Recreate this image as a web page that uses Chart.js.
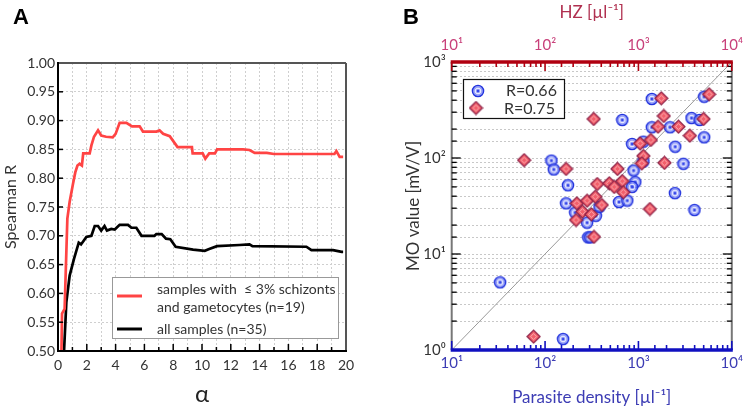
<!DOCTYPE html>
<html>
<head>
<meta charset="utf-8">
<script src="https://cdn.jsdelivr.net/npm/chart.js@4.4.0/dist/chart.umd.min.js"></script>
<style>
  body { margin: 0; background: #fff; width: 751px; height: 410px; overflow: hidden; position: relative; }
  canvas { position: absolute; top: 0; }
  #chartA { left: 0; width: 375px; height: 410px; }
  #chartB { left: 375px; width: 376px; height: 410px; }
</style>
</head>
<body>
<canvas id="chartA" width="375" height="410"></canvas>
<canvas id="chartB" width="376" height="410"></canvas>
<script>
// ---- panel A: Spearman R vs alpha ----
const alphaRed = [0.24, 0.28, 0.46, 0.65, 0.81, 1.04, 1.2, 1.35, 1.5, 1.66, 1.75, 2.2, 2.32, 2.5, 2.78, 3.0, 3.34, 3.8, 4.0, 4.28, 4.75, 5.14, 5.67, 5.9, 6.84, 7.05, 7.3, 7.76, 8.3, 9.3, 9.35, 10.05, 10.23, 10.5, 10.9, 11.05, 12.85, 13.3, 13.66, 14.5, 15.0, 19.2, 19.33, 19.56, 19.8];
const rRed = [0.50, 0.565, 0.573, 0.73, 0.759, 0.79, 0.81, 0.822, 0.825, 0.822, 0.843, 0.843, 0.857, 0.872, 0.883, 0.874, 0.872, 0.871, 0.877, 0.896, 0.896, 0.89, 0.89, 0.881, 0.881, 0.883, 0.877, 0.873, 0.854, 0.854, 0.843, 0.843, 0.834, 0.843, 0.843, 0.85, 0.85, 0.849, 0.844, 0.844, 0.842, 0.842, 0.847, 0.837, 0.837];
const alphaBlack = [0.42, 0.58, 0.81, 1.11, 1.44, 1.6, 1.97, 2.32, 2.55, 2.78, 3.0, 3.23, 3.4, 3.7, 3.94, 4.28, 4.86, 5.1, 5.44, 5.8, 6.7, 6.83, 7.2, 7.5, 7.8, 8.17, 9.38, 10.19, 10.5, 11.04, 12.6, 13.3, 13.5, 17.25, 17.6, 19.1, 19.7, 19.8];
const rBlack = [0.50, 0.585, 0.631, 0.66, 0.688, 0.685, 0.698, 0.70, 0.717, 0.717, 0.709, 0.717, 0.709, 0.712, 0.711, 0.719, 0.719, 0.714, 0.714, 0.70, 0.70, 0.703, 0.703, 0.695, 0.694, 0.681, 0.676, 0.674, 0.677, 0.682, 0.684, 0.685, 0.682, 0.681, 0.675, 0.675, 0.672, 0.672];
const legendA = ['samples with  \u2264 3% schizonts', 'and gametocytes (n=19)', 'all samples (n=35)'];

// ---- panel B: MO value vs parasite density ----
const circleX = [1393, 672, 1393, 2183, 3706, 4520, 5060, 5060, 855, 2478, 1130, 1130, 3030, 117, 124, 176, 888, 925, 855, 2460, 3980, 168, 620, 760, 210, 282, 350, 383, 290, 305, 33, 156];
const circleY = [412, 249, 209, 209, 261, 249, 435, 164, 140, 131, 148, 92, 87, 94, 76, 52, 74, 56, 50, 43, 28.7, 33.7, 34.8, 36, 27, 21.2, 25, 31, 14.9, 14.9, 5.07, 1.30];
const diamondX = [1758, 332, 1870, 1622, 2686, 5715, 4980, 3556, 1042, 1358, 1130, 1087, 1900, 59.7, 168, 596, 362, 487, 550, 672, 688, 1328, 219, 282, 345, 405, 251, 313, 215, 334, 75.4];
const diamondY = [419, 255, 274, 212, 212, 461, 255, 171, 142, 154, 105, 88, 89, 95, 77, 77, 53.6, 54.5, 50, 57.5, 44, 29.4, 33.7, 35.9, 39.5, 32.4, 27.6, 25.9, 22.6, 15.1, 1.38];
const diagX = [10, 10000];
const diagY = [1, 1000];
const legendB = ['R=0.66', 'R=0.75'];

const FONT = 'Lato, "DejaVu Sans", sans-serif';
const SUP = { '0': '\u2070', '1': '\u00b9', '2': '\u00b2', '3': '\u00b3', '4': '\u2074' };

function pts(xs, ys) {
    return xs.map((x, i) => ({ x: x, y: ys[i] }));
}

function isDecade(v) {
    const e = Math.log10(v);
    return Math.abs(e - Math.round(e)) < 1e-9;
}

function decadeLabel(v) {
    if (!isDecade(v)) return '';
    return '10' + SUP[String(Math.round(Math.log10(v)))];
}

function line(ctx, x1, y1, x2, y2) {
    ctx.beginPath();
    ctx.moveTo(x1, y1);
    ctx.lineTo(x2, y2);
    ctx.stroke();
}

// marker images
function makeCircle() {
    const c = document.createElement('canvas');
    c.width = c.height = 14;
    const g = c.getContext('2d');
    g.beginPath(); g.arc(7, 7, 5.6, 0, Math.PI * 2);
    g.fillStyle = 'rgba(105,120,245,0.7)'; g.fill();
    g.lineWidth = 1.4; g.strokeStyle = '#2233dd'; g.stroke();
    g.beginPath(); g.arc(7, 7, 2.8, 0, Math.PI * 2);
    g.lineWidth = 1; g.strokeStyle = 'rgba(255,255,255,0.9)'; g.stroke();
    g.beginPath(); g.arc(7, 7, 1.2, 0, Math.PI * 2);
    g.fillStyle = '#3344e8'; g.fill();
    return c;
}

function makeDiamond() {
    const c = document.createElement('canvas');
    c.width = c.height = 15;
    const g = c.getContext('2d');
    const m = 7.5, r = 6.5;
    g.beginPath();
    g.moveTo(m - r, m); g.lineTo(m, m - r); g.lineTo(m + r, m); g.lineTo(m, m + r); g.closePath();
    g.fillStyle = '#f25f6b'; g.fill();
    g.lineWidth = 1.2; g.strokeStyle = '#8c1f45'; g.stroke();
    g.beginPath();
    g.moveTo(m - 3, m); g.lineTo(m, m - 3); g.lineTo(m + 3, m); g.lineTo(m, m + 3); g.closePath();
    g.lineWidth = 0.8; g.strokeStyle = 'rgba(255,215,215,0.8)'; g.stroke();
    return c;
}

const circleImg = makeCircle();
const diamondImg = makeDiamond();

// ---------- chart A ----------
const decorA = {
    id: 'decorA',
    afterDraw(chart) {
        const { ctx, chartArea: a, scales: { x, y } } = chart;
        ctx.save();
        // inward ticks
        ctx.strokeStyle = '#000';
        ctx.lineWidth = 1.5;
        for (let v = 1; v < 20; v++) {
            const px = x.getPixelForValue(v);
            line(ctx, px, a.bottom, px, a.bottom - (v % 2 === 0 ? 7 : 4));
        }
        y.ticks.forEach(t => {
            const py = y.getPixelForValue(t.value);
            line(ctx, a.left, py, a.left + 5, py);
        });
        // frame
        ctx.lineWidth = 2;
        ctx.strokeStyle = '#555';
        line(ctx, a.left, a.top, a.right, a.top);
        line(ctx, a.right, a.top, a.right, a.bottom);
        ctx.strokeStyle = '#000';
        line(ctx, a.left, a.top - 1, a.left, a.bottom + 1);
        line(ctx, a.left, a.bottom, a.right + 1, a.bottom);

        // legend
        ctx.fillStyle = '#fff';
        ctx.fillRect(112, 277, 226, 61);
        ctx.strokeStyle = '#999';
        ctx.lineWidth = 1;
        ctx.strokeRect(112.5, 277.5, 226, 61);
        ctx.lineWidth = 3;
        ctx.strokeStyle = '#ff4444';
        line(ctx, 117, 296, 142, 296);
        ctx.strokeStyle = '#000';
        line(ctx, 117, 329, 142, 329);
        ctx.fillStyle = '#333';
        ctx.font = '14px ' + FONT;
        ctx.textBaseline = 'middle';
        ctx.textAlign = 'left';
        ctx.fillText(legendA[0], 157, 289);
        ctx.fillText(legendA[1], 157, 307);
        ctx.fillText(legendA[2], 157, 329);

        // panel letter
        ctx.font = 'bold 22px "Liberation Sans", Arial, sans-serif';
        ctx.fillStyle = '#000';
        ctx.textBaseline = 'alphabetic';
        ctx.fillText('A', 13, 24);
        ctx.restore();
    }
};

new Chart(document.getElementById('chartA'), {
    type: 'scatter',
    data: {
        datasets: [
            {
                data: pts(alphaRed, rRed),
                showLine: true,
                borderColor: '#ff4444',
                borderWidth: 2.7,
                pointRadius: 0
            },
            {
                data: pts(alphaBlack, rBlack),
                showLine: true,
                borderColor: '#000',
                borderWidth: 2.7,
                pointRadius: 0
            }
        ]
    },
    options: {
        responsive: false,
        animation: false,
        devicePixelRatio: 1,
        layout: { padding: { left: 0, right: 29, top: 63, bottom: 0 } },
        plugins: { legend: { display: false }, tooltip: { enabled: false } },
        scales: {
            x: {
                type: 'linear',
                min: 0,
                max: 20,
                afterFit: s => { s.height = 59; },
                ticks: {
                    stepSize: 1,
                    autoSkip: false,
                    maxRotation: 0,
                    padding: 6,
                    color: '#333',
                    font: { family: FONT, size: 14 },
                    callback: v => (v % 2 === 0 ? String(v) : '')
                },
                grid: { color: '#cfcfcf', lineWidth: 1, drawTicks: false },
                border: { display: false, dash: [2, 2] },
                title: {
                    display: true,
                    text: '\u03b1',
                    color: '#222',
                    font: { family: FONT, size: 24 },
                    padding: { top: 0, bottom: 1 }
                }
            },
            y: {
                min: 0.5,
                max: 1,
                afterFit: s => { s.width = 58; },
                ticks: {
                    stepSize: 0.05,
                    autoSkip: false,
                    padding: 3,
                    color: '#333',
                    font: { family: FONT, size: 14 },
                    callback: v => v.toFixed(2)
                },
                grid: { color: '#cfcfcf', lineWidth: 1, drawTicks: false },
                border: { display: false, dash: [2, 2] },
                title: {
                    display: true,
                    text: 'Spearman R',
                    color: '#333',
                    font: { family: FONT, size: 16 },
                    padding: { top: 1, bottom: 0 }
                }
            }
        }
    },
    plugins: [decorA]
});

// ---------- chart B ----------
const decorB = {
    id: 'decorB',
    afterDraw(chart) {
        const { ctx, chartArea: a, scales: { x, x2, y } } = chart;
        ctx.save();
        // side frames
        ctx.strokeStyle = '#777';
        ctx.lineWidth = 2;
        line(ctx, a.left, a.top, a.left, a.bottom);
        line(ctx, a.right, a.top, a.right, a.bottom);
        // left/right ticks
        ctx.strokeStyle = '#000';
        ctx.lineWidth = 1.3;
        y.ticks.forEach(t => {
            const py = y.getPixelForValue(t.value);
            const len = isDecade(t.value) ? 9 : 5;
            line(ctx, a.left, py, a.left + len, py);
            line(ctx, a.right, py, a.right - len, py);
        });
        // bottom axis (blue)
        ctx.strokeStyle = '#1010c0';
        ctx.lineWidth = 1.6;
        x.ticks.forEach(t => {
            const px = x.getPixelForValue(t.value);
            line(ctx, px, a.bottom, px, a.bottom - (isDecade(t.value) ? 9 : 5));
        });
        ctx.lineWidth = 3.5;
        line(ctx, a.left - 1, a.bottom, a.right + 1, a.bottom);
        // top axis (red)
        ctx.strokeStyle = '#b00010';
        ctx.lineWidth = 1.6;
        x2.ticks.forEach(t => {
            const px = x2.getPixelForValue(t.value);
            line(ctx, px, a.top, px, a.top + (isDecade(t.value) ? 9 : 5));
        });
        ctx.lineWidth = 3.5;
        line(ctx, a.left - 1, a.top, a.right + 1, a.top);

        // legend
        const lx = 88.5, ly = 79.5;
        ctx.fillStyle = '#fff';
        ctx.fillRect(lx, ly, 101, 39);
        ctx.strokeStyle = '#111';
        ctx.lineWidth = 1.2;
        ctx.strokeRect(lx, ly, 101, 39);
        ctx.drawImage(circleImg, 103 - 7, 91 - 7);
        ctx.drawImage(diamondImg, 101 - 7.5, 108 - 7.5);
        ctx.fillStyle = '#333';
        ctx.font = '16px ' + FONT;
        ctx.textBaseline = 'middle';
        ctx.textAlign = 'left';
        ctx.fillText(legendB[0], 131, 91);
        ctx.fillText(legendB[1], 129, 109);

        // panel letter
        ctx.font = 'bold 22px "Liberation Sans", Arial, sans-serif';
        ctx.fillStyle = '#000';
        ctx.textBaseline = 'alphabetic';
        ctx.fillText('B', 28, 24);
        ctx.restore();
    }
};

const logTicks = (color) => ({
    autoSkip: false,
    maxRotation: 0,
    minRotation: 0,
    color: color,
    font: { family: FONT, size: 15 },
    callback: v => decadeLabel(v)
});

new Chart(document.getElementById('chartB'), {
    type: 'scatter',
    data: {
        datasets: [
            {
                data: pts(diamondX, diamondY),
                pointStyle: diamondImg,
                order: 1
            },
            {
                data: pts(circleX, circleY),
                pointStyle: circleImg,
                order: 2
            },
            {
                data: pts(diagX, diagY),
                showLine: true,
                borderColor: '#9a9a9a',
                borderWidth: 1,
                pointRadius: 0,
                order: 3
            }
        ]
    },
    options: {
        responsive: false,
        animation: false,
        devicePixelRatio: 1,
        layout: { padding: { left: 24, right: 12, top: 0, bottom: 0 } },
        plugins: { legend: { display: false }, tooltip: { enabled: false } },
        scales: {
            x: {
                type: 'logarithmic',
                position: 'bottom',
                min: 10,
                max: 10000,
                afterFit: s => { s.height = 60; },
                ticks: Object.assign(logTicks('#3c3cb4'), { padding: 4 }),
                grid: { display: false, drawTicks: false },
                border: { display: false },
                title: {
                    display: true,
                    text: 'Parasite density [\u00b5l\u207b\u00b9]',
                    color: '#3c3cb4',
                    font: { family: FONT, size: 17 },
                    padding: { top: 0, bottom: 2 }
                }
            },
            x2: {
                type: 'logarithmic',
                position: 'top',
                min: 10,
                max: 10000,
                afterFit: s => { s.height = 62; },
                ticks: Object.assign(logTicks('#c8407a'), { padding: 8 }),
                grid: { display: false, drawTicks: false },
                border: { display: false },
                title: {
                    display: true,
                    text: 'HZ [\u00b5l\u207b\u00b9]',
                    color: '#b03050',
                    font: { family: FONT, size: 17 },
                    padding: { top: 2, bottom: 0 }
                }
            },
            y: {
                type: 'logarithmic',
                min: 1,
                max: 1000,
                afterFit: s => { s.width = 52.7; },
                ticks: Object.assign(logTicks('#333'), { padding: 6 }),
                grid: { color: '#c8c8c8', lineWidth: 1, drawTicks: false },
                border: { display: false, dash: [2, 2] },
                title: {
                    display: true,
                    text: 'MO value [mV/V]',
                    color: '#333',
                    font: { family: FONT, size: 17 },
                    padding: { top: 4, bottom: 0 }
                }
            }
        }
    },
    plugins: [decorB]
});
</script>
</body>
</html>
